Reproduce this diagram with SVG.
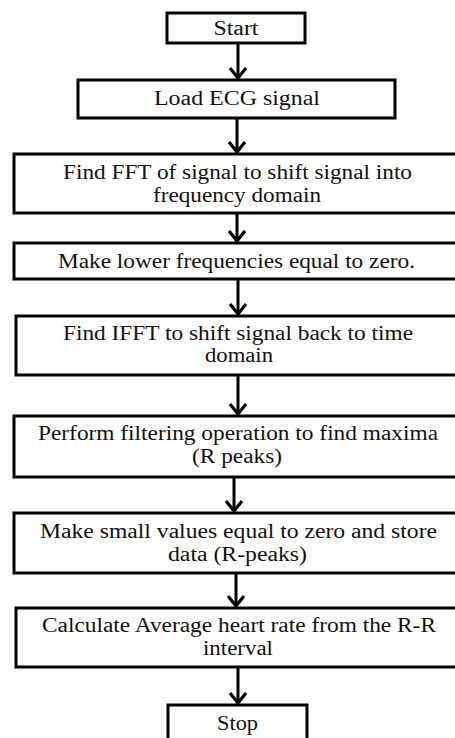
<svg xmlns="http://www.w3.org/2000/svg" width="455" height="738" viewBox="0 0 455 738">
<style>
.box{fill:#fff;stroke:#000;stroke-width:3}
.t{font-family:"Liberation Serif","Times New Roman",serif;font-size:20px;fill:#111;text-anchor:middle}
.c{stroke:#000;stroke-width:3;fill:none}
</style>
<defs>
<marker id="ah" viewBox="0 0 14 20" refX="12" refY="10" markerWidth="14" markerHeight="20" orient="auto" markerUnits="userSpaceOnUse">
<path d="M2,2 L12,10 L2,18" fill="none" stroke="#000" stroke-width="3.2"/>
</marker>
</defs>
<rect width="455" height="738" fill="#fff"/>
<g id="connectors">
<line class="c" x1="238" y1="43" x2="238" y2="78" marker-end="url(#ah)"/>
<line class="c" x1="237" y1="118" x2="237" y2="152" marker-end="url(#ah)"/>
<line class="c" x1="237" y1="213" x2="237" y2="241" marker-end="url(#ah)"/>
<line class="c" x1="238" y1="279" x2="238" y2="314" marker-end="url(#ah)"/>
<line class="c" x1="238" y1="375" x2="238" y2="414" marker-end="url(#ah)"/>
<line class="c" x1="234" y1="477" x2="234" y2="511" marker-end="url(#ah)"/>
<line class="c" x1="236" y1="573" x2="236" y2="606" marker-end="url(#ah)"/>
<line class="c" x1="238" y1="667" x2="238" y2="703" marker-end="url(#ah)"/>
</g>
<g id="start">
<rect class="box" x="167" y="13" width="138" height="30"/>
<text class="t" x="236" y="35" textLength="45" lengthAdjust="spacingAndGlyphs">Start</text>
</g>
<g id="load">
<rect class="box" x="78" y="80" width="317" height="38"/>
<text class="t" x="237" y="105" textLength="166" lengthAdjust="spacingAndGlyphs">Load ECG signal</text>
</g>
<g id="fft">
<rect class="box" x="14" y="154" width="450" height="59"/>
<text class="t" x="237.5" y="179" textLength="349" lengthAdjust="spacingAndGlyphs">Find FFT of signal to shift signal into</text>
<text class="t" x="237" y="202" textLength="168" lengthAdjust="spacingAndGlyphs">frequency domain</text>
</g>
<g id="lower">
<rect class="box" x="14" y="243" width="450" height="36"/>
<text class="t" x="236.5" y="268" textLength="357" lengthAdjust="spacingAndGlyphs">Make lower frequencies equal to zero.</text>
</g>
<g id="ifft">
<rect class="box" x="16" y="316" width="450" height="59"/>
<text class="t" x="238" y="340" textLength="350" lengthAdjust="spacingAndGlyphs">Find IFFT to shift signal  back to time</text>
<text class="t" x="239" y="362" textLength="68" lengthAdjust="spacingAndGlyphs">domain</text>
</g>
<g id="perform">
<rect class="box" x="14" y="416" width="450" height="61"/>
<text class="t" x="238" y="440" textLength="400" lengthAdjust="spacingAndGlyphs">Perform filtering operation to find maxima</text>
<text class="t" x="237" y="463" textLength="90" lengthAdjust="spacingAndGlyphs">(R peaks)</text>
</g>
<g id="small">
<rect class="box" x="14" y="513" width="450" height="60"/>
<text class="t" x="238.5" y="538" textLength="397" lengthAdjust="spacingAndGlyphs">Make small values equal to zero and store</text>
<text class="t" x="237.5" y="561" textLength="139" lengthAdjust="spacingAndGlyphs">data (R-peaks)</text>
</g>
<g id="calc">
<rect class="box" x="16" y="608" width="450" height="59"/>
<text class="t" x="239" y="632" textLength="394" lengthAdjust="spacingAndGlyphs">Calculate Average heart rate from the R-R</text>
<text class="t" x="238" y="655" textLength="70" lengthAdjust="spacingAndGlyphs">interval</text>
</g>
<g id="stop">
<rect class="box" x="168" y="705" width="139" height="40"/>
<text class="t" x="237.5" y="730" textLength="41" lengthAdjust="spacingAndGlyphs">Stop</text>
</g>
</svg>
